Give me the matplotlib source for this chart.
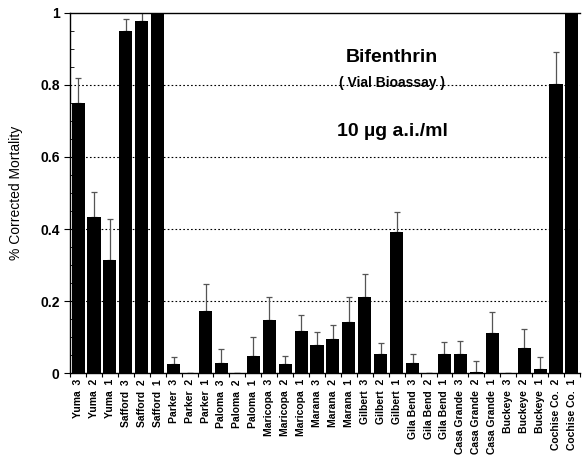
import numpy as np
import matplotlib
matplotlib.use("Agg")
import matplotlib.pyplot as plt
from matplotlib.ticker import MultipleLocator

plt.rcParams['font.family'] = ['Liberation Sans', 'DejaVu Sans']

sites = ["Yuma", "Yuma", "Yuma", "Safford", "Safford", "Safford",
         "Parker", "Parker", "Parker", "Paloma", "Paloma", "Paloma",
         "Maricopa", "Maricopa", "Maricopa", "Marana", "Marana", "Marana",
         "Gilbert", "Gilbert", "Gilbert", "Gila Bend", "Gila Bend", "Gila Bend",
         "Casa Grande", "Casa Grande", "Casa Grande", "Buckeye", "Buckeye", "Buckeye",
         "Cochise Co.", "Cochise Co."]
reps = [3, 2, 1, 3, 2, 1, 3, 2, 1, 3, 2, 1, 3, 2, 1, 3, 2, 1,
        3, 2, 1, 3, 2, 1, 3, 2, 1, 3, 2, 1, 2, 1]

mortality = [0.749, 0.434, 0.314, 0.949, 0.977, 1.0,
             0.026, 0.0, 0.173, 0.030, 0.0, 0.049,
             0.148, 0.026, 0.118, 0.079, 0.096, 0.142,
             0.213, 0.053, 0.393, 0.030, 0.0, 0.054,
             0.054, 0.003, 0.111, 0.0, 0.070, 0.012,
             0.802, 1.0]
upper_err = [0.070, 0.069, 0.114, 0.033, 0.025, 0.0,
             0.020, 0.0, 0.075, 0.037, 0.0, 0.051,
             0.065, 0.023, 0.043, 0.035, 0.038, 0.069,
             0.062, 0.032, 0.054, 0.024, 0.0, 0.032,
             0.036, 0.032, 0.059, 0.0, 0.053, 0.035,
             0.088, 0.0]

labels = [f"{s}  {r}" for s, r in zip(sites, reps)]
x = np.arange(len(labels))

fig = plt.figure(figsize=(5.84, 4.68), dpi=100)
ax = fig.add_axes([0.12, 0.202, 0.873, 0.771])

ax.bar(x, mortality, width=0.82, color='black', zorder=3)
ax.errorbar(x, mortality, yerr=[np.zeros(len(x)), upper_err], fmt='none',
            ecolor='#555555', elinewidth=0.9, capsize=2, capthick=0.9, zorder=2)

for g in [0.2, 0.4, 0.6, 0.8]:
    ax.axhline(g, color='black', linestyle=(0, (1.5, 2)), linewidth=0.8, zorder=1)

ax.set_xlim(-0.5, len(x) - 0.5)
ax.set_ylim(0, 1)
ax.yaxis.set_major_locator(MultipleLocator(0.2))
ax.yaxis.set_minor_locator(MultipleLocator(0.05))
ax.set_yticks([0, 0.2, 0.4, 0.6, 0.8, 1])
ax.set_yticklabels(["0", "0.2", "0.4", "0.6", "0.8", "1"], fontsize=10, fontweight='bold')
ax.tick_params(axis='y', which='major', direction='out', length=4, width=0.8)
ax.tick_params(axis='y', which='minor', direction='in', length=3, width=0.6)

ax.set_xticks(x)
ax.set_xticklabels(labels, rotation=90, fontsize=7.5, fontweight='bold')
ax.tick_params(axis='x', which='major', length=0, pad=4)
ax.set_xticks(np.arange(len(x) + 1) - 0.5, minor=True)
ax.tick_params(axis='x', which='minor', direction='out', length=3, width=0.8)

ax.spines['right'].set_visible(False)
for sp in ['left', 'top', 'bottom']:
    ax.spines[sp].set_linewidth(1.0)

ax.set_ylabel("% Corrected Mortality", fontsize=10, labelpad=12)

ax.text(0.632, 0.875, "Bifenthrin", transform=ax.transAxes, ha='center', va='center',
        fontsize=14, fontweight='bold')
ax.text(0.632, 0.804, "( Vial Bioassay )", transform=ax.transAxes, ha='center', va='center',
        fontsize=10, fontweight='bold')
ax.text(0.632, 0.67, "10 \u00b5g a.i./ml", transform=ax.transAxes, ha='center', va='center',
        fontsize=14, fontweight='bold')

fig.savefig("out.png", dpi=100)
